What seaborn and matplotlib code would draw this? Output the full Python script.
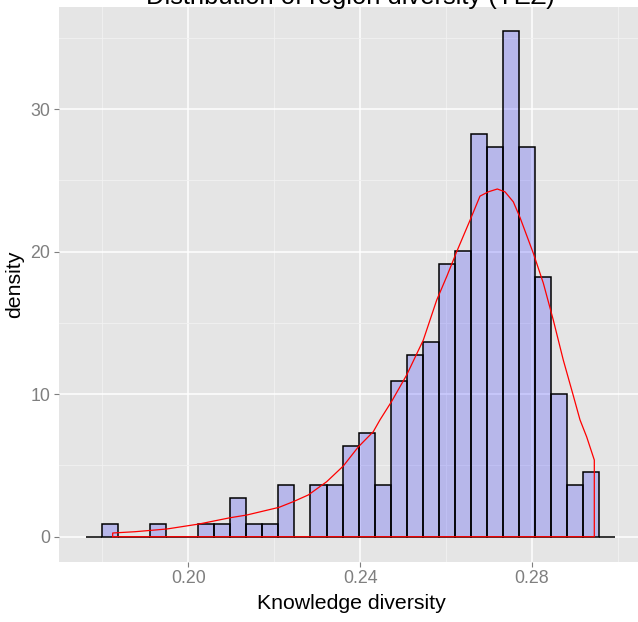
import numpy as np
import pandas as pd
import matplotlib
matplotlib.use("Agg")
import matplotlib.pyplot as plt
import seaborn as sns

# ---- data -------------------------------------------------------------
title = "Distribution of region diversity (YEZ)"
x_label = "Knowledge diversity"
y_label = "density"

# histogram bins: left edge of the first bin, bin width, counts per bin
bin_start = 0.17615
bin_width = 0.0037357
counts = [0, 1, 0, 0, 1, 0, 0, 1, 1, 3, 1, 1, 4, 0, 4, 4, 7, 8, 4,
          12, 14, 15, 21, 22, 31, 30, 39, 30, 20, 11, 4, 5, 0]

# kernel density estimate of the same sample
kde_x = [0.18243, 0.18762, 0.19500, 0.20251, 0.20973, 0.21361, 0.22113,
         0.22446, 0.22795, 0.23223, 0.23609, 0.23958, 0.24307, 0.24463,
         0.24735, 0.25084, 0.25471, 0.25782, 0.26015, 0.26248, 0.26557,
         0.26790, 0.26983, 0.27193, 0.27372, 0.27565, 0.27721, 0.28030,
         0.28263, 0.28496, 0.28728, 0.28961, 0.29117, 0.29273, 0.29450]
kde_y = [0.26, 0.35, 0.54, 0.89, 1.33, 1.52, 2.06,
         2.46, 2.93, 3.86, 4.96, 6.30, 7.37, 8.20,
         9.50, 11.35, 13.8, 16.6, 18.25, 20.0, 22.2,
         23.9, 24.2, 24.4, 24.2, 23.5, 22.4, 19.9,
         17.8, 15.2, 12.4, 9.9, 8.2, 7.0, 5.38]

x_ticks = [0.20, 0.24, 0.28]
x_tick_labels = ["0.20", "0.24", "0.28"]
x_minor = [0.18, 0.22, 0.26, 0.30]
y_ticks = [0, 10, 20, 30]
y_tick_labels = ["0", "10", "20", "30"]
y_minor = [5, 15, 25, 35]

# ---- style ------------------------------------------------------------
sns.set_style({
    "axes.facecolor": "#E5E5E5",
    "figure.facecolor": "white",
    "axes.edgecolor": "none",
    "grid.color": "white",
    "xtick.color": "#7F7F7F",
    "ytick.color": "#7F7F7F",
})
plt.rcParams["font.family"] = ["Liberation Sans", "DejaVu Sans"]

W, H = 638, 622
fig = plt.figure(figsize=(W / 100, H / 100), dpi=100)
# panel in pixel space: x 59..643, y 7.3..562
ax = fig.add_axes([59 / W, (H - 562) / H, (643 - 59) / W, (562 - 7.3) / H])

edges = (bin_start + bin_width * np.arange(len(counts) + 1)).tolist()
centers = [e + bin_width / 2 for e in edges[:-1]]
hist_df = pd.DataFrame({"value": centers, "n": counts})

sns.histplot(data=hist_df, x="value", weights="n", bins=edges,
             stat="density", ax=ax, facecolor=(0, 0, 1, 0.2),
             edgecolor="black", linewidth=1.1, zorder=3)
for p in ax.patches:
    p.set_facecolor((0, 0, 1, 0.2))
    p.set_edgecolor("black")

# density outline drawn as a closed polygon (baseline included)
poly_x = [kde_x[0]] + kde_x + [kde_x[-1], kde_x[0]]
poly_y = [0.0] + kde_y + [0.0, 0.0]
poly_df = pd.DataFrame({"x": poly_x, "y": poly_y})
sns.lineplot(data=poly_df, x="x", y="y", sort=False, estimator=None,
             color="red", linewidth=0.9, ax=ax, zorder=4)

ax.set_xlim(0.16994, 0.30583)
ax.set_ylim(-1.775, 37.15)

ax.set_xticks(x_ticks)
ax.set_xticklabels(x_tick_labels)
ax.set_xticks(x_minor, minor=True)
ax.set_yticks(y_ticks)
ax.set_yticklabels(y_tick_labels)
ax.set_yticks(y_minor, minor=True)

ax.grid(which="major", color="white", linewidth=1.1, zorder=0)
ax.grid(which="minor", color="#F2F2F2", linewidth=0.6, zorder=0)
ax.set_axisbelow(True)

ax.tick_params(which="major", length=3.6, width=0.8, labelsize=12.8,
               colors="#7F7F7F")
ax.tick_params(axis="x", which="major", pad=2.1)
ax.tick_params(axis="y", which="major", pad=2.7)
ax.tick_params(which="minor", length=0)

for s in ax.spines.values():
    s.set_visible(False)

ax.set_xlabel(x_label, fontsize=15.3, color="black")
ax.xaxis.label.set_va("baseline")
ax.xaxis.set_label_coords(0.5, (562 - 609) / (562 - 7.3))

ax.set_ylabel(y_label, fontsize=15.3, color="black")
ax.yaxis.label.set_va("baseline")
ax.yaxis.label.set_ha("center")
ax.yaxis.set_label_coords((20.5 - 59) / (643 - 59), 0.501)

# title sits at the very top edge of the canvas
fig.text(350.5 / W, 1 - 4 / H, title, ha="center", va="baseline",
         fontsize=18.35, color="black")

fig.savefig("out.png", dpi=100)
